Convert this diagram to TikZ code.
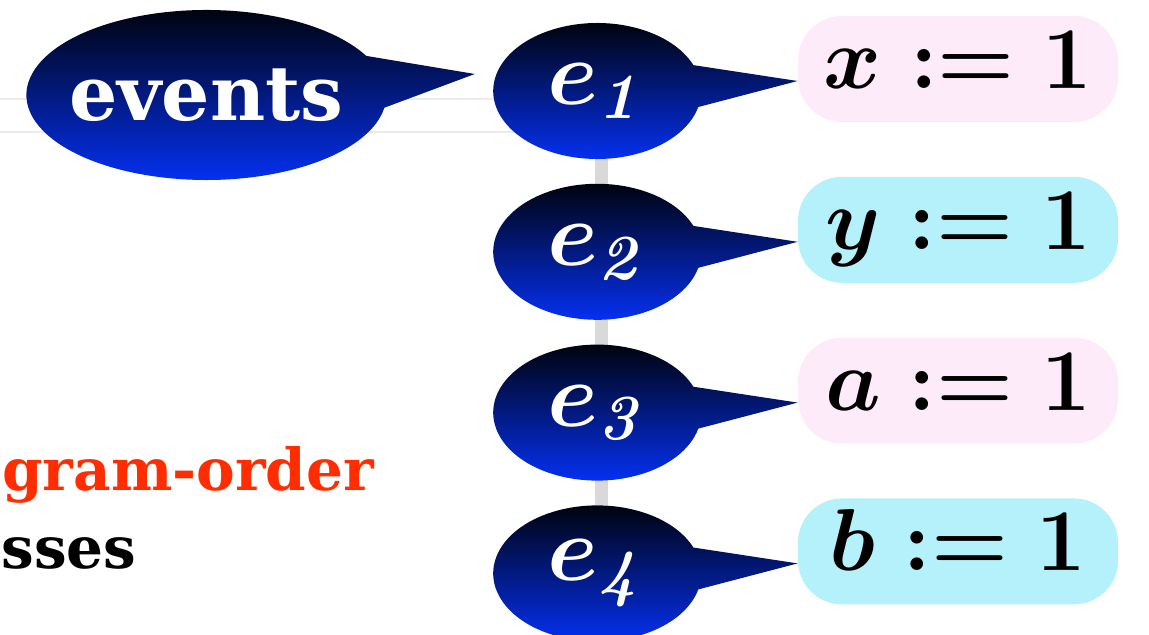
\RequirePackage{fix-cm}
\documentclass[tikz,border=0pt]{standalone}
\usepackage{amsmath}
\usepackage[no-math]{fontspec}
\newfontfamily\slabfont{DejaVu Serif}
\usepackage{tikz}
\usetikzlibrary{positioning, shapes.callouts, backgrounds}
\definecolor{eventblue}{HTML}{0533FF}
\definecolor{writepink}{HTML}{FDEBFA}
\definecolor{writecyan}{HTML}{B5F1FA}
\definecolor{orderred}{HTML}{FF2D00}
\tikzset{
    bubble/.style={ellipse callout, top color=black, bottom color=eventblue, draw=none, inner sep=0pt, callout pointer arc=36, text=white},
    eventnode/.style={bubble, minimum width=104pt, minimum height=68pt, font=\fontsize{46}{50}\selectfont\boldmath},
    eventsbubble/.style={bubble, minimum width=180pt, minimum height=85pt, font=\slabfont\bfseries\fontsize{38}{42}\selectfont},
    writebox/.style={rectangle, rounded corners=22pt, minimum width=160pt, minimum height=53pt, inner xsep=0pt, text height=28.5pt, text depth=9pt, font=\fontsize{44}{48}\selectfont\boldmath},
    pinkbox/.style={writebox, fill=writepink},
    cyanbox/.style={writebox, fill=writecyan},
    spine/.style={line width=6.5pt, draw=black!15},
    slideline/.style={line width=1pt, draw=black!8},
    slidetext/.style={anchor=base west, inner sep=0pt, font=\slabfont\bfseries\fontsize{29}{33}\selectfont}
}
\begin{document}
\begin{tikzpicture}[x=0.5pt, y=-0.5pt, node distance=27pt]
    \useasboundingbox (0,0) rectangle (1149,635);
    \clip (0,0) rectangle (1149,635);
    \node[pinkbox] (bx1) at (958,69) {$x := 1$};
    \node[cyanbox, below=of bx1] (bx2) {$y := 1$};
    \node[pinkbox, below=of bx2] (bx3) {$a := 1$};
    \node[cyanbox, below=of bx3] (bx4) {$b := 1$};
    \node[eventnode, left=48pt of bx1, yshift=-11pt, callout absolute pointer={([yshift=-6pt]bx1.west)}] (e1) {$e_{\mathit{1}}$};
    \node[eventnode, below=12pt of e1, callout absolute pointer={([yshift=-6pt]bx2.west)}] (e2) {$e_{\mathit{2}}$};
    \node[eventnode, below=12pt of e2, callout absolute pointer={([yshift=-6pt]bx3.west)}] (e3) {$e_{\mathit{3}}$};
    \node[eventnode, below=12pt of e3, callout absolute pointer={([yshift=-6pt]bx4.west)}] (e4) {$e_{\mathit{4}}$};
    \node[eventsbubble, left=53pt of e1, yshift=-2pt, callout absolute pointer={([shift={(-9pt,8.5pt)}]e1.west)}] (events) {\makebox[0pt]{events}};
    \node[slidetext, text=orderred] (order) at (2,490) {gram-order};
    \node[slidetext] (access) at (1,568) {sses};
    \begin{scope}[on background layer]
        \draw[slideline] (0,99) -- (560,99);
        \draw[slideline] (0,132) -- (560,132);
        \draw[spine] ([xshift=2pt]e1.south) -- ([xshift=2pt]e4.north);
    \end{scope}
\end{tikzpicture}
\end{document}
